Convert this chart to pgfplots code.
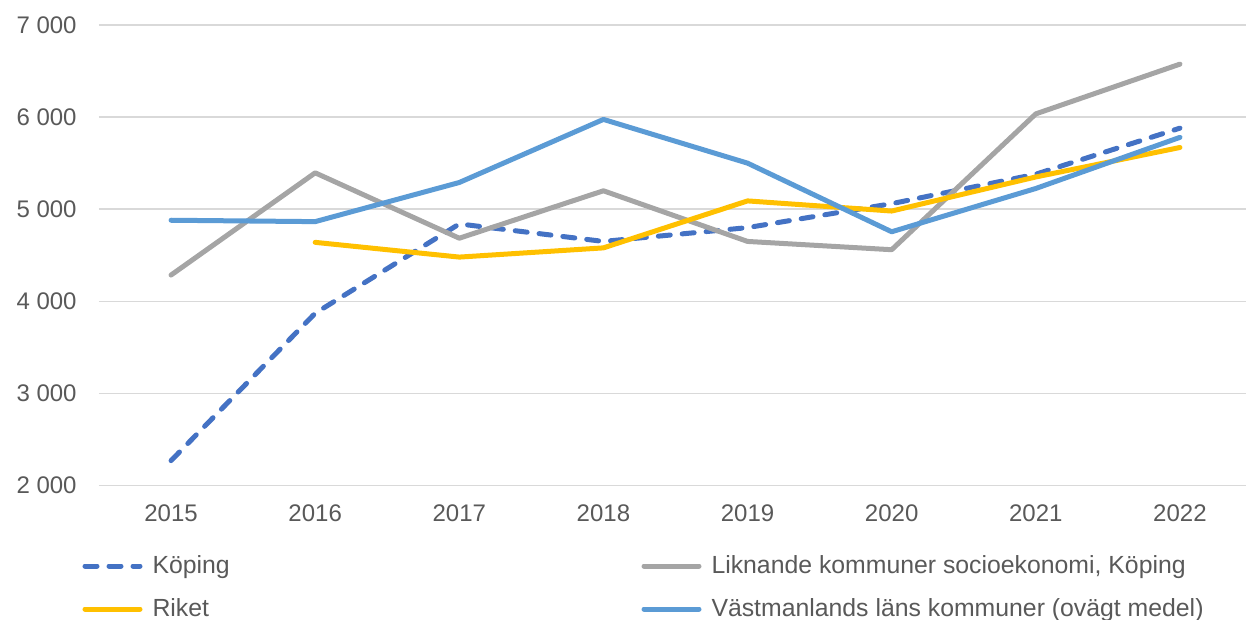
\documentclass[border=0pt]{standalone}
\usepackage{fontspec}
\setmainfont{Liberation Sans}
\usepackage{pgfplots}
\pgfplotsset{compat=1.18}
\definecolor{cKoping}{HTML}{4472C4}
\definecolor{cLikn}{HTML}{A5A5A5}
\definecolor{cRiket}{HTML}{FFC000}
\definecolor{cVast}{HTML}{5B9BD5}
\definecolor{cGrid}{HTML}{D9D9D9}
\definecolor{cText}{HTML}{595959}
\begin{document}
\begin{tikzpicture}
\begin{axis}[
  scale only axis,
  width=576.5pt, height=230.25pt,
  xmin=2014.5, xmax=2022.5,
  ymin=2000, ymax=7000,
  axis line style={draw=none},
  major tick length=0pt,
  xtick={2015,2016,2017,2018,2019,2020,2021,2022},
  xticklabels={2015,2016,2017,2018,2019,2020,2021,2022},
  ytick={2000,3000,4000,5000,6000,7000},
  yticklabels={2 000,3 000,4 000,5 000,6 000,7 000},
  ymajorgrids,
  grid style={cGrid, line width=0.75pt},
  tick label style={font=\fontsize{12}{14}\selectfont, text=cText},
  yticklabel style={anchor=east, inner sep=0pt, xshift=-11pt},
  xticklabel style={anchor=north, inner sep=0pt, yshift=-9.25pt},
  every axis plot/.append style={line width=2.5pt, line join=round, line cap=round},
  legend columns=2,
  legend cell align=left,
  legend style={at={(rel axis cs:0,0)}, anchor=north west, xshift=-8.25pt, yshift=-35.2pt,
    draw=none, fill=none, inner sep=0pt, outer sep=0pt,
    font=\fontsize{12.4}{14}\selectfont, text=cText,
    nodes={inner sep=0pt, text height=8.7pt, text depth=0pt},
    row sep=12.8pt, column sep=0pt,
    /tikz/every odd column/.append style={column sep=5pt}},
  legend image code/.code={\draw[#1] (0pt,-0.75pt) -- (27.5pt,-0.75pt);},
]
\addplot[cKoping, dash pattern=on 6pt off 6pt] coordinates {
(2015,2270) (2016,3870) (2017,4840) (2018,4650) (2019,4800) (2020,5060) (2021,5380) (2022,5880)};
\addlegendentry{\makebox[244.5pt][l]{Köping}}
\addplot[cLikn] coordinates {
(2015,4285) (2016,5395) (2017,4685) (2018,5200) (2019,4650) (2020,4560) (2021,6035) (2022,6575)};
\addlegendentry{Liknande kommuner socioekonomi, Köping}
\addplot[cRiket] coordinates {
(2016,4640) (2017,4480) (2018,4580) (2019,5090) (2020,4980) (2021,5350) (2022,5670)};
\addlegendentry{\makebox[244.5pt][l]{Riket}}
\addplot[cVast] coordinates {
(2015,4880) (2016,4865) (2017,5290) (2018,5975) (2019,5500) (2020,4755) (2021,5225) (2022,5780)};
\addlegendentry{Västmanlands läns kommuner (ovägt medel)}
\end{axis}
\pgfresetboundingbox
\path[use as bounding box] (-49.5pt,-67.25pt) rectangle (573.5pt,242.75pt);
\end{tikzpicture}
\end{document}
